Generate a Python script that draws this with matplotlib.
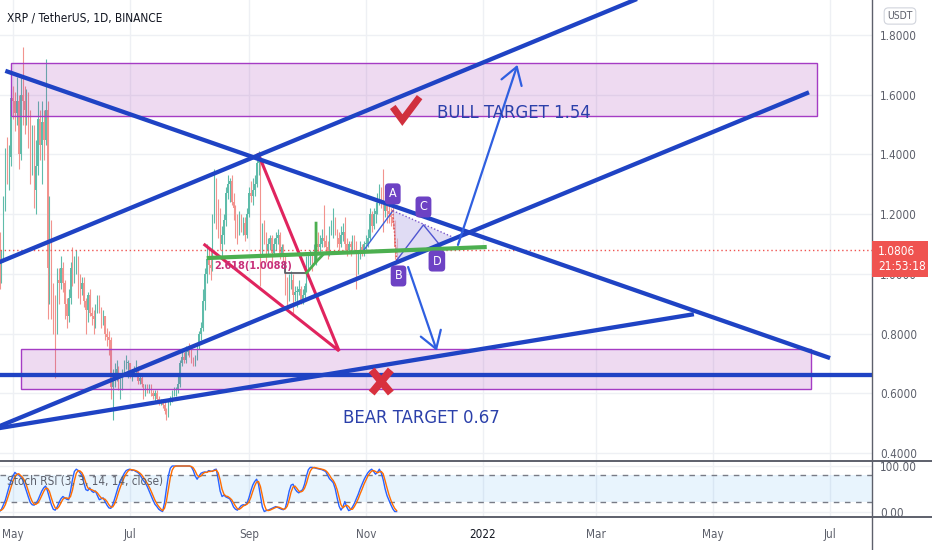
import matplotlib
matplotlib.use("Agg")
import matplotlib.pyplot as plt
import matplotlib.dates as mdates
from matplotlib import font_manager as fm
from matplotlib.patches import Rectangle, Polygon
from matplotlib.lines import Line2D
import numpy as np
import pandas as pd

# ---------------- data ----------------
START_DATE = "2021-04-24"
FIRST_OPEN = 1.10
closes = [
    1.02, 1.05, 1.23, 1.38, 1.36, 1.39, 1.59,
    1.58, 1.54, 1.58, 1.40, 1.60, 1.58, 1.55,
    1.57, 1.50, 1.38, 1.46, 1.28, 1.36, 1.52,
    1.43, 1.51, 1.45, 1.55, 1.02, 1.12, 0.95,
    0.90, 0.82, 0.98, 0.97, 1.02, 0.97, 0.90,
    0.86, 0.92, 1.02, 0.99, 1.03, 1.05, 0.98,
    0.95, 0.97, 0.91, 0.88, 0.93, 0.87, 0.86,
    0.85, 0.89, 0.91, 0.88, 0.84, 0.86, 0.80,
    0.79, 0.78, 0.62, 0.64, 0.66, 0.68, 0.62,
    0.63, 0.67, 0.69, 0.70, 0.70, 0.66, 0.67,
    0.68, 0.68, 0.64, 0.65, 0.63, 0.60, 0.62,
    0.61, 0.62, 0.60, 0.59, 0.60, 0.58, 0.57,
    0.57, 0.56, 0.54, 0.53, 0.57, 0.58, 0.60,
    0.61, 0.61, 0.63, 0.70, 0.72, 0.71, 0.74,
    0.75, 0.74, 0.71, 0.70, 0.72, 0.76, 0.80,
    0.82, 0.91, 1.00, 1.05, 1.03, 1.02, 1.18,
    1.27, 1.22, 1.17, 1.10, 1.13, 1.18, 1.27,
    1.30, 1.31, 1.24, 1.22, 1.17, 1.15, 1.19,
    1.16, 1.17, 1.13, 1.20, 1.27, 1.26, 1.28,
    1.30, 1.37, 1.38, 1.12, 1.15, 1.12, 1.08,
    1.10, 1.12, 1.07, 1.10, 1.12, 1.13, 1.07,
    1.09, 1.06, 0.97, 0.92, 0.98, 0.98, 0.93,
    0.94, 0.94, 0.95, 0.91, 0.93, 0.96, 1.03,
    1.05, 1.06, 1.05, 1.08, 1.10, 1.09, 1.10,
    1.12, 1.11, 1.09, 1.07, 1.14, 1.16, 1.18,
    1.14, 1.12, 1.10, 1.13, 1.14, 1.10, 1.08,
    1.10, 1.09, 1.11, 1.10, 1.02, 1.06, 1.09,
    1.08, 1.10, 1.10, 1.12, 1.20, 1.16, 1.20,
    1.21, 1.25, 1.27, 1.24, 1.21, 1.24, 1.21,
    1.20, 1.19, 1.17, 1.09, 1.0806,
]
highs = [
    1.14, 1.08, 1.26, 1.42, 1.46, 1.43, 1.62,
    1.63, 1.61, 1.66, 1.60, 1.66, 1.76, 1.63,
    1.62, 1.61, 1.55, 1.50, 1.50, 1.45, 1.58,
    1.55, 1.58, 1.55, 1.72, 1.58, 1.26, 1.18,
    0.97, 0.93, 1.02, 1.02, 1.06, 1.04, 0.98,
    0.92, 0.95, 1.04, 1.09, 1.06, 1.08, 1.06,
    1.00, 0.99, 0.99, 0.92, 0.94, 0.95, 0.89,
    0.88, 0.90, 0.93, 0.93, 0.89, 0.88, 0.86,
    0.82, 0.81, 0.79, 0.68, 0.70, 0.71, 0.69,
    0.65, 0.68, 0.71, 0.73, 0.71, 0.70, 0.68,
    0.69, 0.71, 0.69, 0.66, 0.66, 0.63, 0.63,
    0.63, 0.63, 0.63, 0.61, 0.61, 0.61, 0.59,
    0.58, 0.58, 0.57, 0.55, 0.58, 0.59, 0.61,
    0.62, 0.62, 0.66, 0.71, 0.75, 0.74, 0.76,
    0.76, 0.77, 0.75, 0.72, 0.73, 0.77, 0.81,
    0.84, 0.95, 1.02, 1.10, 1.08, 1.08, 1.20,
    1.35, 1.32, 1.25, 1.22, 1.16, 1.20, 1.29,
    1.33, 1.32, 1.33, 1.27, 1.23, 1.20, 1.21,
    1.20, 1.19, 1.19, 1.22, 1.29, 1.31, 1.32,
    1.33, 1.38, 1.41, 1.39, 1.17, 1.18, 1.14,
    1.12, 1.13, 1.13, 1.12, 1.14, 1.15, 1.14,
    1.10, 1.10, 1.06, 0.99, 1.00, 1.01, 1.00,
    0.96, 0.96, 0.98, 0.96, 0.95, 0.97, 1.06,
    1.07, 1.08, 1.07, 1.10, 1.12, 1.14, 1.13,
    1.15, 1.23, 1.13, 1.11, 1.16, 1.18, 1.22,
    1.19, 1.15, 1.14, 1.16, 1.17, 1.19, 1.12,
    1.11, 1.11, 1.13, 1.13, 1.11, 1.08, 1.11,
    1.10, 1.11, 1.13, 1.15, 1.22, 1.21, 1.22,
    1.24, 1.27, 1.30, 1.29, 1.35, 1.26, 1.25,
    1.23, 1.22, 1.24, 1.18, 1.12,
]
lows = [
    0.95, 0.97, 1.04, 1.21, 1.30, 1.28, 1.36,
    1.52, 1.48, 1.50, 1.35, 1.38, 1.50, 1.47,
    1.50, 1.42, 1.30, 1.33, 1.22, 1.20, 1.33,
    1.38, 1.30, 1.38, 1.43, 0.85, 0.90, 0.85,
    0.80, 0.65, 0.80, 0.90, 0.95, 0.94, 0.85,
    0.82, 0.84, 0.90, 0.96, 0.97, 1.00, 0.92,
    0.90, 0.93, 0.89, 0.80, 0.84, 0.86, 0.83,
    0.80, 0.82, 0.87, 0.87, 0.82, 0.83, 0.78,
    0.76, 0.73, 0.58, 0.51, 0.62, 0.64, 0.61,
    0.58, 0.61, 0.66, 0.68, 0.65, 0.65, 0.64,
    0.66, 0.66, 0.63, 0.63, 0.62, 0.58, 0.59,
    0.60, 0.60, 0.59, 0.58, 0.57, 0.57, 0.56,
    0.56, 0.55, 0.53, 0.51, 0.52, 0.56, 0.57,
    0.59, 0.59, 0.60, 0.62, 0.69, 0.70, 0.70,
    0.73, 0.72, 0.70, 0.69, 0.69, 0.71, 0.75,
    0.78, 0.81, 0.88, 0.97, 1.00, 0.98, 1.01,
    1.17, 1.15, 1.12, 1.08, 1.06, 1.10, 1.16,
    1.25, 1.24, 1.23, 1.18, 1.12, 1.10, 1.13,
    1.14, 1.13, 1.11, 1.12, 1.19, 1.24, 1.23,
    1.26, 1.29, 1.33, 0.96, 1.06, 1.10, 1.04,
    1.06, 1.08, 1.02, 1.06, 1.08, 1.10, 1.05,
    1.06, 1.04, 0.93, 0.88, 0.91, 0.95, 0.87,
    0.91, 0.89, 0.93, 0.90, 0.90, 0.92, 0.94,
    1.01, 1.03, 1.01, 1.04, 1.03, 1.07, 1.07,
    1.09, 1.09, 1.07, 1.05, 1.06, 1.13, 1.12,
    1.13, 1.09, 1.08, 1.09, 1.11, 1.08, 1.06,
    1.07, 1.06, 1.08, 1.08, 0.95, 1.00, 1.05,
    1.06, 1.06, 1.08, 1.09, 1.11, 1.14, 1.15,
    1.17, 1.20, 1.23, 1.22, 1.14, 1.19, 1.17,
    1.17, 1.16, 1.15, 1.05, 1.04,
]
stoch_k = [
    0, 5, 15, 25, 40, 55, 68, 78, 86, 82, 80, 76, 70, 58, 45, 32, 20, 15, 14, 18,
    25, 35, 45, 52, 56, 45, 30, 15, 5, 3, 10, 20, 28, 33, 30, 27, 26, 45, 70, 88,
    93, 90, 85, 80, 62, 48, 46, 52, 45, 42, 45, 35, 26, 28, 30, 22, 14, 8, 7, 15,
    28, 42, 56, 65, 75, 84, 90, 92, 93, 90, 91, 88, 86, 82, 75, 68, 63, 55, 45, 35,
    25, 16, 11, 5, 2, 0, 20, 50, 78, 95, 100, 100, 100, 100, 100, 100, 100, 100, 100, 100,
    98, 90, 78, 71, 78, 84, 86, 87, 86, 90, 89, 88, 92, 93, 70, 45, 33, 36, 32, 30,
    28, 20, 10, 5, 3, 8, 13, 15, 14, 18, 30, 45, 58, 66, 71, 60, 35, 10, 0, 2,
    3, 5, 7, 9, 11, 9, 7, 5, 4, 8, 25, 45, 58, 60, 50, 44, 41, 45, 48, 60,
    78, 92, 97, 97, 96, 95, 94, 93, 92, 90, 88, 80, 72, 68, 63, 50, 30, 12, 3, 10,
    22, 10, 2, 4, 10, 18, 28, 38, 50, 60, 70, 78, 85, 90, 93, 88, 82, 86, 93, 85,
    70, 50, 35, 25, 15, 6, 0, 0,
]
stoch_d = [
    2, 3, 7, 15, 27, 40, 54, 67, 77, 82, 83, 79, 75, 68, 58, 45, 32, 22, 16, 16,
    19, 26, 35, 44, 51, 51, 44, 30, 17, 8, 6, 11, 19, 27, 30, 30, 28, 33, 47, 68,
    84, 90, 89, 85, 76, 63, 52, 49, 48, 46, 44, 41, 35, 30, 28, 27, 22, 15, 10, 10,
    17, 28, 42, 54, 65, 75, 83, 89, 92, 92, 91, 90, 88, 85, 81, 75, 69, 62, 54, 45,
    35, 25, 17, 11, 6, 2, 7, 23, 49, 74, 91, 98, 100, 100, 100, 100, 100, 100, 100, 100,
    99, 96, 89, 80, 76, 78, 83, 86, 86, 88, 88, 89, 90, 91, 85, 69, 49, 38, 34, 33,
    30, 26, 19, 12, 6, 5, 8, 12, 14, 16, 21, 31, 44, 56, 65, 66, 55, 35, 15, 4,
    2, 3, 5, 7, 9, 10, 9, 7, 5, 6, 12, 26, 43, 54, 56, 51, 45, 43, 45, 51,
    62, 77, 89, 95, 97, 96, 95, 94, 93, 92, 90, 86, 80, 73, 68, 60, 48, 31, 15, 8,
    12, 14, 11, 5, 5, 11, 19, 28, 39, 49, 60, 69, 78, 84, 89, 90, 88, 85, 87, 88,
    83, 68, 52, 37, 25, 15, 7, 2,
]
price_ticks = [0.4, 0.6, 0.8, 1.0, 1.2, 1.4, 1.6, 1.8]
osc_ticks = [0, 100]
date_ticks = ["2021-05-01", "2021-07-01", "2021-09-01", "2021-11-01",
              "2022-01-01", "2022-03-01", "2022-05-01", "2022-07-01"]
date_labels = ["May", "Jul", "Sep", "Nov", "2022", "Mar", "May", "Jul"]

# drawings (date, price anchors)
bull_zone = ("2021-04-30", "2022-06-24", 1.529, 1.706)
bear_zone = ("2021-05-05", "2022-06-21", 0.614, 0.748)
trend_lines = [
    [("2021-04-27", 1.680), ("2022-07-01", 0.718)],
    [("2021-04-20", 1.029), ("2022-03-27", 1.933)],
    [("2021-04-20", 0.4795), ("2022-06-20", 1.608)],
    [("2021-04-20", 0.4795), ("2022-04-21", 0.865)],
    [("2021-04-20", 0.661), ("2022-08-30", 0.661)],
]
v_path = [("2021-08-09", 1.097), ("2021-10-18", 0.742), ("2021-09-06", 1.400)]
green_line = [("2021-08-10", 1.053), ("2022-01-03", 1.090)]
green_hook = [("2021-10-01", 1.003), ("2021-10-06", 1.040), ("2021-10-06", 1.170)]
green_hook2 = [("2021-10-06", 1.040), ("2021-10-10", 1.067)]
gray_marker = [("2021-09-20", 1.036), ("2021-09-20", 1.003), ("2021-10-01", 1.003)]
fib_label = ("2.618(1.0088)", "2021-08-14", 1.026)
abcd_xa = [("2021-10-31", 1.080), ("2021-11-15", 1.211)]
abcd_pts = {"A": ("2021-11-15", 1.212), "B": ("2021-11-17", 1.045),
            "C": ("2021-12-01", 1.164), "D": ("2021-12-10", 1.093),
            "E": ("2021-12-16", 1.124)}
abcd_labels = {"A": ("2021-11-15", 1.268), "B": ("2021-11-18", 0.993),
               "C": ("2021-12-01", 1.224), "D": ("2021-12-08", 1.043)}
arrow_up = (("2021-12-19", 1.097), ("2022-01-19", 1.700))
arrow_down = (("2021-11-23", 1.023), ("2021-12-08", 0.742))
check_mark = [("2021-11-15", 1.559), ("2021-11-20", 1.515), ("2021-11-29", 1.592)]
cross_mark = [[("2021-11-04", 0.678), ("2021-11-14", 0.601)],
              [("2021-11-14", 0.678), ("2021-11-04", 0.601)]]
targets = [("BULL TARGET 1.54", "2021-12-08", 1.539),
           ("BEAR TARGET 0.67", "2021-10-20", 0.517)]

# ---------------- fonts ----------------
_avail = {f.name for f in fm.fontManager.ttflist}
if "Liberation Sans Narrow" in _avail:
    plt.rcParams["font.family"] = ["Liberation Sans Narrow", "DejaVu Sans"]
    NARROW = True
else:
    plt.rcParams["font.family"] = ["DejaVu Sans"]
    plt.rcParams["font.stretch"] = "condensed"
    NARROW = False
FS_TICK = 9.5 if NARROW else 8.4
FS_HEAD = 9.8 if NARROW else 8.6
FS_TGT = 15 if NARROW else 13.2
FS_PL = 9.5 if NARROW else 8.5

# ---------------- layout ----------------
W, H = 932, 550
PANE_R = 872
MAIN_B = 461
OSC_B = 517
PX_PER_DAY = 1.918
X0_PX = 13          # May 1 2021 pixel
PX_PER_UNIT = 298.6
Y18_PX = 35         # 1.8 pixel

fig = plt.figure(figsize=(W / 100, H / 100), dpi=100)
fig.patch.set_facecolor("white")
ax = fig.add_axes([0, 1 - MAIN_B / H, PANE_R / W, MAIN_B / H])
osc = fig.add_axes([0, 1 - OSC_B / H, PANE_R / W, (OSC_B - MAIN_B) / H], sharex=ax)

d0 = mdates.date2num(pd.Timestamp("2021-05-01"))
ax.set_xlim(d0 - X0_PX / PX_PER_DAY, d0 + (PANE_R - X0_PX) / PX_PER_DAY)
ax.set_ylim(1.8 - (MAIN_B - Y18_PX) / PX_PER_UNIT, 1.8 + Y18_PX / PX_PER_UNIT)
osc.set_ylim(-12, 111)

def D(s):
    return mdates.date2num(pd.Timestamp(s))

def pts(lst):
    return [D(a) for a, _ in lst], [b for _, b in lst]

# grid
GRID = "#eef0f4"
for a in (ax, osc):
    a.set_facecolor("white")
    for s in a.spines.values():
        s.set_visible(False)
xt = [D(s) for s in date_ticks]
osc.set_xticks(xt)
osc.set_xticklabels(date_labels)
ax.tick_params(axis="x", length=0, labelbottom=False)
ax.set_yticks(price_ticks)
ax.set_yticklabels([f"{v:.4f}" for v in price_ticks])
osc.set_yticks(osc_ticks)
osc.set_yticklabels([f"{v:.2f}" for v in osc_ticks])
for a in (ax, osc):
    a.yaxis.tick_right()
    a.tick_params(axis="y", length=0, pad=6, labelsize=FS_TICK, labelcolor="#5d606b")
    a.grid(True, color=GRID, lw=1, zorder=0)
    a.set_axisbelow(True)
osc.tick_params(axis="x", length=0, pad=8, labelsize=FS_TICK, labelcolor="#5d606b")
for lbl in osc.get_xticklabels():
    if lbl.get_text() == "2022":
        lbl.set_color("#131722")

# candles
dates = pd.date_range(START_DATE, periods=len(closes), freq="D")
x = mdates.date2num(dates)
c = np.array(closes)
o = np.array([FIRST_OPEN] + closes[:-1])
h = np.array(highs)
l = np.array(lows)
up = c >= o
cols = np.where(up, "#5fbcaa", "#f2938e")
ax.vlines(x, l, h, colors=cols, lw=0.8, zorder=2)
ax.bar(x, np.maximum(np.abs(c - o), 0.004), bottom=np.minimum(o, c), width=0.62,
       color=cols, linewidth=0, zorder=2)

# last price dotted line
ax.axhline(closes[-1], color="#ef5350", lw=1, ls=(0, (1, 2)), zorder=2.5)

# zones
for (a0, a1, p0, p1) in (bull_zone, bear_zone):
    ax.add_patch(Rectangle((D(a0), p0), D(a1) - D(a0), p1 - p0,
                           facecolor="#9c27b0", alpha=0.17, edgecolor="none", zorder=3))
    ax.add_patch(Rectangle((D(a0), p0), D(a1) - D(a0), p1 - p0,
                           facecolor="none", edgecolor="#a53cc4", lw=1.0, zorder=3.1))

BLUE = "#1f43c4"
for ln in trend_lines:
    xs, ys = pts(ln)
    ax.plot(xs, ys, color=BLUE, lw=3.1, solid_capstyle="butt", zorder=5)

xs, ys = pts(v_path)
ax.plot(xs, ys, color="#e0245e", lw=2.2, solid_joinstyle="miter", zorder=4.5)

xs, ys = pts(gray_marker)
ax.plot(xs, ys, color="#5a5d66", lw=1.3, zorder=4)

xs, ys = pts(green_line)
ax.plot(xs, ys, color="#4caf50", lw=3.0, solid_capstyle="butt", zorder=5.5)
for gh in (green_hook, green_hook2):
    xs, ys = pts(gh)
    ax.plot(xs, ys, color="#4caf50", lw=2.0, zorder=5.5)

t, dx, py = fib_label
ax.text(D(dx), py, t, color="#c8307a", fontsize=7.8, fontweight="bold",
        ha="left", va="center", zorder=5.2)

# ABCD pattern
P = {k: (D(v[0]), v[1]) for k, v in abcd_pts.items()}
ax.add_patch(Polygon([P["A"], P["B"], P["D"], P["E"]], closed=True,
                     facecolor="#c7c0ec", alpha=0.55, edgecolor="none", zorder=3.5))
xs, ys = pts(abcd_xa)
ax.plot(xs, ys, color="#3f63dc", lw=1.0, zorder=4.6)
ax.plot([P["A"][0], P["B"][0]], [P["A"][1], P["B"][1]], color="#e05050", lw=1.0,
        ls=(0, (1, 1.5)), zorder=4.6)
ax.plot([P["B"][0], P["C"][0], P["D"][0]], [P["B"][1], P["C"][1], P["D"][1]],
        color="#4f55d0", lw=1.0, zorder=4.6)
ax.plot([P["A"][0], P["E"][0]], [P["A"][1], P["E"][1]], color="#7b58cc", lw=1.0,
        ls=(0, (1, 1.5)), zorder=4.6)
for k, (dx, py) in abcd_labels.items():
    ax.text(D(dx), py, k, color="white", fontsize=9, ha="center", va="center",
            zorder=7, bbox=dict(boxstyle="round,pad=0.32,rounding_size=0.3",
                                fc="#6d42c4", ec="none"))

# arrows
for (s, e) in (arrow_up, arrow_down):
    ax.annotate("", xy=(D(e[0]), e[1]), xytext=(D(s[0]), s[1]),
                arrowprops=dict(arrowstyle="->,head_length=0.6,head_width=0.38",
                                color="#2f5fe0", lw=1.6, mutation_scale=20,
                                shrinkA=0, shrinkB=0), zorder=6)

# check and cross
xs, ys = pts(check_mark)
ax.plot(xs, ys, color="#d0303e", lw=5, solid_joinstyle="miter",
        solid_capstyle="butt", zorder=6)
for cm in cross_mark:
    xs, ys = pts(cm)
    ax.plot(xs, ys, color="#d8303e", lw=5.5, solid_capstyle="butt", zorder=6)

for t, dx, py in targets:
    ax.text(D(dx), py, t, color="#2b40aa", fontsize=FS_TGT, ha="left", va="center", zorder=7)

# stoch rsi pane
osc.axhspan(20, 80, color="#2196f3", alpha=0.1, lw=0, zorder=1)
for lev in (80, 20):
    osc.axhline(lev, color="#787b86", lw=1, ls=(0, (4, 4)), zorder=2)
osc.plot(x, stoch_k, color="#2962ff", lw=1.0, zorder=3)
osc.plot(x, stoch_d, color="#ff6d00", lw=1.0, zorder=3)
fig.text(7 / W, 1 - 481 / H, "Stoch RSI (3, 3, 14, 14, close)", fontsize=FS_TICK,
         color="#5d606b", va="center", ha="left", zorder=1)

# separators
SEP = "#5d606b"
fig.add_artist(Line2D([PANE_R / W, PANE_R / W], [0, 1], color=SEP, lw=1.0))
for yy in (MAIN_B, OSC_B):
    fig.add_artist(Line2D([0, 1], [1 - yy / H, 1 - yy / H], color=SEP, lw=1.4))

# header
fig.text(7 / W, 1 - 18 / H, "XRP / TetherUS, 1D, BINANCE", fontsize=FS_HEAD,
         color="#131722", va="center", ha="left")
fig.text(900 / W, 1 - 16 / H, "USDT", fontsize=7.5, color="#5d606b", va="center",
         ha="center", bbox=dict(boxstyle="round,pad=0.3,rounding_size=0.4",
                                fc="white", ec="#d1d4dc", lw=0.8))

# last price label
fig.canvas.draw()
py_disp = ax.transData.transform((x[-1], closes[-1]))[1]
py_img = H - py_disp
fig.add_artist(Rectangle((PANE_R / W, 1 - (py_img + 27) / H), 56 / W, 36 / H,
                         transform=fig.transFigure, facecolor="#ef5350",
                         edgecolor="none", zorder=10))
fig.text((PANE_R + 6) / W, 1 - (py_img + 2) / H, f"{closes[-1]:.4f}", color="white",
         fontsize=FS_PL, va="center", ha="left", zorder=11)
fig.text((PANE_R + 6) / W, 1 - (py_img + 17) / H, "21:53:18", color="white",
         fontsize=FS_PL, va="center", ha="left", zorder=11)

fig.savefig("out.png", dpi=100, facecolor="white")
